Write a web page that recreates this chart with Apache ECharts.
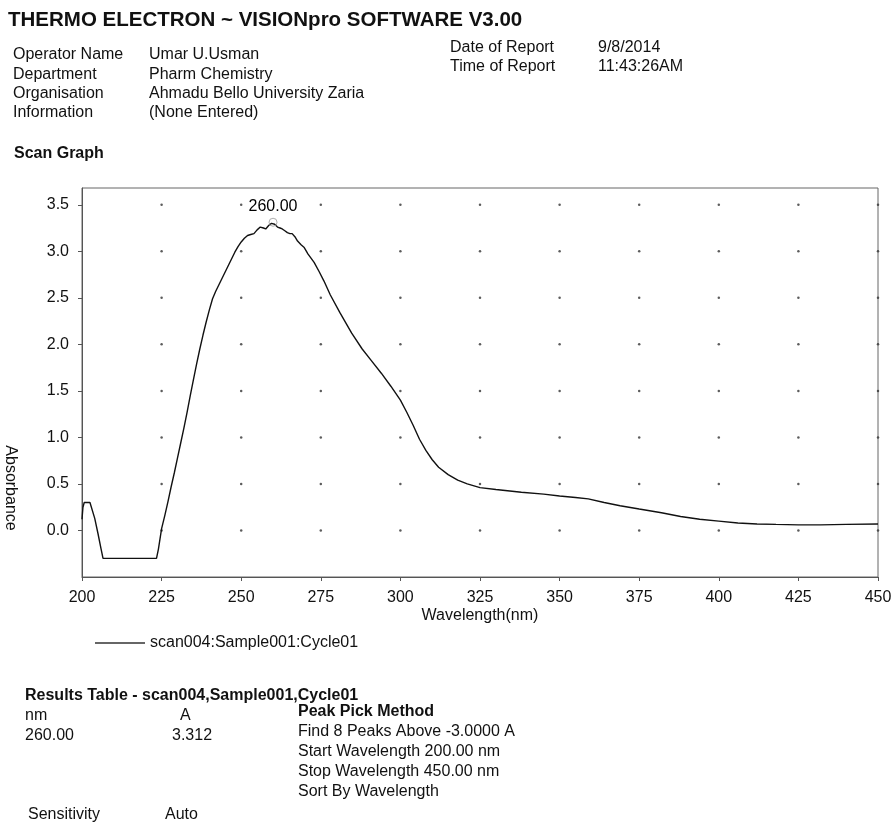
<!DOCTYPE html>
<html>
<head>
<meta charset="utf-8">
<script src="https://cdn.jsdelivr.net/npm/echarts@6/dist/echarts.min.js"></script>
<style>
html,body{margin:0;padding:0;background:#fff;}
#chart{width:896px;height:824px;}
</style>
</head>
<body>
<div id="chart"></div>
<script>
// ---- data ----
var wavelength = [200, 200.3, 200.7, 201.5, 202.5, 203, 204, 205, 206, 206.6, 210, 215, 220, 223.4, 224, 225,
  226, 227, 228, 229, 230, 231, 232, 233, 234, 235, 236, 237, 238, 239, 240, 241, 242, 243, 244, 245, 246, 247, 248, 249, 250,
  251, 252, 253, 254, 255, 256, 257, 257.7, 258.7, 259.5, 260, 260.5, 261.4, 262.2, 262.9, 263.7, 264.5, 265.3, 266, 267, 267.7, 268.8, 269.8,
  271, 272.9, 274.5, 276, 278, 281, 284.7, 288, 291, 294, 297, 300, 302, 304, 306, 308, 310, 312, 315, 318, 321, 325,
  330, 338, 345, 350, 355, 359, 364, 369, 375, 382, 388, 394, 400, 406, 412, 418, 425, 432, 440, 450];
var absorbance = [0.12, 0.25, 0.30, 0.30, 0.30, 0.29, 0.13, -0.03, -0.20, -0.30, -0.30, -0.30, -0.30, -0.30, -0.20, 0.02,
  0.16, 0.31, 0.47, 0.62, 0.78, 0.94, 1.10, 1.27, 1.45, 1.62, 1.79, 1.95, 2.10, 2.24, 2.37, 2.49, 2.57, 2.64, 2.71, 2.78, 2.85, 2.92, 2.99, 3.05, 3.10,
  3.14, 3.17, 3.18, 3.19, 3.23, 3.26, 3.25, 3.24, 3.28, 3.30, 3.312, 3.29, 3.26, 3.25, 3.24, 3.22, 3.20, 3.19, 3.19, 3.15, 3.11, 3.07, 3.04,
  2.97, 2.88, 2.78, 2.68, 2.53, 2.34, 2.12, 1.95, 1.82, 1.69, 1.55, 1.40, 1.27, 1.13, 0.98, 0.86, 0.76, 0.68, 0.60, 0.54, 0.50, 0.46,
  0.44, 0.41, 0.39, 0.37, 0.355, 0.34, 0.30, 0.265, 0.23, 0.19, 0.15, 0.12, 0.10, 0.08, 0.07, 0.065, 0.06, 0.06, 0.065, 0.07];
var xTicks = [200, 225, 250, 275, 300, 325, 350, 375, 400, 425, 450];
var yTicks = [0.0, 0.5, 1.0, 1.5, 2.0, 2.5, 3.0, 3.5];
var peakNm = [260.00];
var peakA = [3.312];
var seriesName = 'scan004:Sample001:Cycle01';

var titleText = 'THERMO ELECTRON ~ VISIONpro SOFTWARE V3.00';
var headerLabels = ['Operator Name', 'Department', 'Organisation', 'Information'];
var headerValues = ['Umar U.Usman', 'Pharm Chemistry', 'Ahmadu Bello University Zaria', '(None Entered)'];
var reportLabels = ['Date of Report', 'Time of Report'];
var reportValues = ['9/8/2014', '11:43:26AM'];
var resultsTitle = 'Results Table - scan004,Sample001,Cycle01';
var resultsHead = ['nm', 'A'];
var resultsRow = ['260.00', '3.312'];
var methodTitle = 'Peak Pick Method';
var methodLines = ['Find 8 Peaks Above -3.0000 A', 'Start Wavelength 200.00 nm', 'Stop Wavelength 450.00 nm', 'Sort By Wavelength'];
var sensitivity = ['Sensitivity', 'Auto'];

// ---- build ----
var FONT = '"Liberation Sans", Arial, sans-serif';
var lineData = wavelength.map(function (w, i) { return [w, absorbance[i]]; });
var dotData = [];
xTicks.forEach(function (x) { if (x > 200) yTicks.forEach(function (y) { dotData.push([x, y]); }); });
var peakData = peakNm.map(function (w, i) { return [w, peakA[i]]; });

function txt(s, x, y, size, bold, extra) {
  var o = {
    type: 'text', x: x, y: y, silent: true,
    style: { text: s, fill: '#111', font: (bold ? 'bold ' : '') + size + 'px ' + FONT, verticalAlign: 'middle', align: 'left' }
  };
  if (extra) for (var k in extra) o[k] = extra[k];
  return o;
}

var graphics = [];
graphics.push(txt(titleText, 8, 20, 20.5, true));
headerLabels.forEach(function (s, i) { var y = [55, 75, 94, 113][i]; graphics.push(txt(s, 13, y, 16)); graphics.push(txt(headerValues[i], 149, y, 16)); });
reportLabels.forEach(function (s, i) { var y = [48, 67][i]; graphics.push(txt(s, 450, y, 16)); graphics.push(txt(reportValues[i], 598, y, 16)); });
graphics.push(txt('Scan Graph', 14, 154, 16, true));
graphics.push({ type: 'text', x: 10, y: 488, rotation: -Math.PI / 2, silent: true,
  style: { text: 'Absorbance', fill: '#111', font: '16px ' + FONT, align: 'center', verticalAlign: 'middle' } });
graphics.push(txt(resultsTitle, 25, 696, 16, true));
graphics.push(txt(resultsHead[0], 25, 716, 16));
graphics.push(txt(resultsHead[1], 180, 716, 16));
graphics.push(txt(resultsRow[0], 25, 736, 16));
graphics.push(txt(resultsRow[1], 172, 736, 16));
graphics.push(txt(methodTitle, 298, 712, 16, true));
methodLines.forEach(function (s, i) { graphics.push(txt(s, 298, 732 + i * 19.7, 16)); });
graphics.push(txt(sensitivity[0], 28, 815, 16));
graphics.push(txt(sensitivity[1], 165, 815, 16));

var chart = echarts.init(document.getElementById('chart'), null, { renderer: 'canvas' });
chart.setOption({
  backgroundColor: '#ffffff',
  animation: false,
  textStyle: { fontFamily: FONT },
  grid: { left: 82, right: 18, top: 188, bottom: 247, show: true, borderColor: '#666', borderWidth: 1, containLabel: false },
  legend: {
    data: [seriesName], left: 90, top: 630, itemWidth: 50, itemHeight: 1.5, icon: 'rect', itemGap: 5,
    textStyle: { fontSize: 16, color: '#111', fontFamily: FONT }, itemStyle: { color: '#333' }, selectedMode: false
  },
  xAxis: {
    type: 'value', min: 200, max: 450, interval: 25,
    name: 'Wavelength(nm)', nameLocation: 'middle', nameGap: 31,
    nameTextStyle: { fontSize: 16, color: '#111', fontFamily: FONT },
    axisLine: { show: true, onZero: false, lineStyle: { color: '#555', width: 1 } },
    axisTick: { show: true, length: 4, lineStyle: { color: '#555' } },
    axisLabel: { fontSize: 16, color: '#111', margin: 13, fontFamily: FONT },
    splitLine: { show: false }
  },
  yAxis: {
    type: 'value', min: -0.5, max: 3.68, interval: 0.5,
    axisLine: { show: true, onZero: false, lineStyle: { color: '#555', width: 1 } },
    axisTick: { show: true, length: 4, lineStyle: { color: '#555' }, customValues: yTicks },
    axisLabel: { fontSize: 16, color: '#111', margin: 13, fontFamily: FONT, customValues: yTicks,
      formatter: function (v) { return v.toFixed(1); } },
    splitLine: { show: false }
  },
  series: [
    {
      name: 'grid dots', type: 'scatter', data: dotData, symbol: 'circle', symbolSize: 2.5, silent: true,
      itemStyle: { color: '#333' }, z: 1
    },
    {
      name: seriesName, type: 'line', data: lineData, showSymbol: false, symbol: 'none', smooth: false,
      lineStyle: { color: '#111', width: 1.4 }, itemStyle: { color: '#333' }, z: 3
    },
    {
      name: 'peak', type: 'scatter', data: peakData, symbol: 'circle', symbolSize: 8, silent: true,
      itemStyle: { color: 'rgba(0,0,0,0)', borderColor: '#999', borderWidth: 1 }, z: 4,
      label: { show: true, position: 'top', distance: 3, fontSize: 16, color: '#000', opacity: 1, fontFamily: FONT,
        formatter: function (p) { return p.value[0].toFixed(2); } }
    }
  ],
  graphic: graphics
});
</script>
</body>
</html>
